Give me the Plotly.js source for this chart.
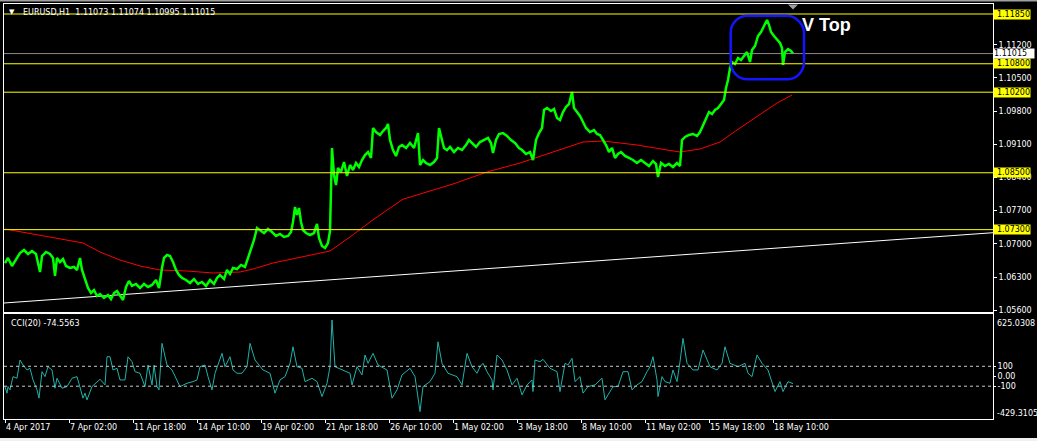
<!DOCTYPE html>
<html><head><meta charset="utf-8">
<script src="https://cdn.plot.ly/plotly-3.0.1.min.js"></script>
<style>html,body{margin:0;padding:0;background:#000;overflow:hidden}#chart{width:1037px;height:441px}</style>
</head><body><div id="chart"></div>
<script>
// ---- data (bar index = hourly bar counted from 4 Apr 2017 10:00) ----
const priceBar = [0,3,7,11,15,19,23,27,31,35,37,41,45,48,50,52,55,58,61,65,69,72,75,77,80,83,86,89,92,95,99,103,106,109,112,115,118,121,124,127,131,135,139,143,147,151,154,157,159,162,165,168,171,174,177,181,185,189,193,197,201,205,209,212,215,219,222,225,228,232,236,240,243,246,249,252,255,259,263,267,271,275,279,283,286,288,290,292,294,296,298,301,305,309,312,314,317,320,323,325,
327,329,331,333,336,339,342,345,348,351,354,357,360,363,366,368,371,375,378,381,383,385,388,391,394,397,401,405,409,413,415,418,421,425,429,432,434,436,439,442,445,449,453,457,461,464,467,471,475,479,483,486,488,491,494,498,502,506,510,514,517,521,525,528,531,534,537,539,542,546,549,552,555,558,561,564,567,569,572,575,578,581,585,589,592,595,598,601,604,607,610,613,616,620,624,628,632,636,640,644,648,651,653,656,660,664,668,672,675,677,680,684,688,692,695,
698,701,704,707,710,713,716,719,721,723,725,727,730,733,736,739,742,745,747,750,753,756,759,762,764,766,769,772,775,777,778,780,783,786,788];
const priceVal = [1.06596,1.06702,1.06533,1.06659,1.06807,1.06870,1.06786,1.06849,1.06786,1.06406,1.06744,1.06828,1.06786,1.06702,1.06322,1.06702,1.06617,1.06680,1.06533,1.06491,1.06512,1.06448,1.06702,1.06448,1.06280,1.06069,1.05963,1.06026,1.05900,1.05942,1.05858,1.05921,1.05836,1.05963,1.06005,1.05900,1.05815,1.06090,1.06216,1.06111,1.06153,1.06069,1.06153,1.06090,1.06132,1.06237,1.06069,1.06491,1.06702,1.06765,1.06744,1.06617,1.06448,1.06343,1.06280,1.06237,1.06174,1.06258,1.06153,1.06195,1.06111,1.06237,1.06153,1.06280,1.06343,1.06258,1.06448,1.06364,1.06491,1.06469,1.06554,1.06512,1.06702,1.06913,1.07081,1.07335,1.07292,1.07229,1.07313,1.07250,1.07166,1.07208,1.07145,1.07166,1.07250,1.07461,1.07778,1.07609,1.07757,1.07461,1.07292,1.07229,1.07187,1.07229,1.07419,1.07124,1.06955,1.06913,1.07018,1.07271,
1.09023,1.08453,1.08242,1.08601,1.08516,1.08727,1.08432,1.08664,1.08558,1.08706,1.08622,1.08769,1.08875,1.08938,1.08812,1.09445,1.09360,1.09297,1.09381,1.09445,1.09529,1.09191,1.08980,1.08854,1.09044,1.09086,1.09023,1.09128,1.09023,1.09339,1.08664,1.08769,1.08706,1.08664,1.08727,1.08812,1.09445,1.09255,1.09023,1.08980,1.09044,1.08938,1.09023,1.08980,1.09086,1.09191,1.09128,1.09044,1.09149,1.09191,1.09234,1.09128,1.08917,1.09191,1.09318,1.09339,1.09276,1.09191,1.09128,1.09023,1.08980,1.08896,1.08938,1.08769,1.09191,1.09339,1.09445,1.09824,1.09867,1.09803,1.09845,1.09656,1.09613,1.09782,1.09888,1.09951,1.10204,1.09867,1.09782,1.09698,1.09571,1.09445,1.09360,1.09402,1.09318,1.09297,1.09191,1.09086,1.08938,1.09023,1.08812,1.08896,1.08938,1.08854,1.08812,1.08769,1.08706,1.08769,1.08706,1.08643,1.08748,1.08685,1.08411,1.08706,1.08643,1.08685,1.08622,1.08706,1.08643,1.09191,1.09255,1.09297,1.09318,1.09276,1.09360,
1.09508,1.09656,1.09782,1.09740,1.09824,1.09867,1.09951,1.10035,1.10289,1.10457,1.10711,1.10837,1.10795,1.10922,1.10879,1.10964,1.11048,1.10837,1.11090,1.11175,1.11386,1.11470,1.11597,1.11723,1.11618,1.11470,1.11386,1.11301,1.11238,1.11133,1.10774,1.11048,1.11111,1.11069,1.11015];

const maBar = [0,45,78,95,115,135,155,182,208,235,248,268,295,325,345,365,385,398,448,482,515,548,578,598,632,662,675,695,715,735,755,772,787];
const maVal = [1.07313,1.07145,1.07018,1.06828,1.06659,1.06533,1.06448,1.06427,1.06385,1.06406,1.06469,1.06596,1.06723,1.06849,1.07145,1.07462,1.07757,1.07942,1.08263,1.08516,1.08706,1.08938,1.09149,1.09170,1.09086,1.08980,1.08938,1.09001,1.09149,1.09445,1.09720,1.09972,1.10141];

const trendBar = [-1, 988];
const trendVal = [1.05752, 1.07235];

const cciBar = [0,2,3,5,8,12,15,18,22,25,28,32,34,37,40,43,47,50,52,57,62,67,72,75,78,80,82,87,92,95,100,102,105,108,112,115,120,123,127,130,135,140,143,147,149,152,154,157,162,167,175,182,188,192,195,200,203,207,210,217,220,225,228,232,237,242,245,250,258,265,270,275,280,285,288,292,297,300,307,312,317,322,325,327,330,338,345,347,352,357,360,363,368,373,382,387,392,397,405,410,413,415,418,425,430,433,437,443,452,457,462,467,472,475,478,482,487,488,492,497,502,507,512,517,522,527,528,530,535,538,545,552,555,560,563,567,570,575,578,583,590,597,600,603,608,613,618,623,627,632,637,642,645,648,652,653,657,660,665,668,672,675,678,682,688,693,698,705,712,717,720,725,733,740,743,747,752,757,763,770,775,778,783,788];
const cciVal = [-104,-170,-104,-137,-4,-20,163,113,63,80,-37,-137,-220,46,-4,96,63,-120,-20,-120,-104,-20,-4,-104,-220,-170,-237,-104,-54,-30,-87,196,196,63,80,-37,-37,196,146,46,30,-104,113,-87,113,-104,-137,330,113,63,-104,-70,-54,-37,96,113,-4,-137,30,230,96,196,63,30,30,96,330,163,63,30,-170,-37,-4,130,296,96,80,-54,-20,-54,-204,-70,96,565,96,63,30,-87,96,13,213,130,230,113,63,-220,-137,13,80,-4,-237,-355,-104,-54,30,346,130,30,-4,-87,230,96,30,96,130,46,-37,-137,213,163,63,-87,-20,-187,-87,-37,-154,163,146,170,80,46,-154,130,113,180,-54,-4,-170,-104,-87,-20,-237,-187,-104,-104,46,46,-137,-87,-54,46,96,196,-37,-204,-4,-54,-70,63,-54,146,380,130,63,63,263,96,63,130,296,130,96,130,30,-4,213,130,63,-154,-54,-154,-54,-74.5563];

const levels = [1.1185, 1.1080, 1.1020, 1.0850, 1.0730];
const levelText = ['1.11850','1.10800','1.10200','1.08500','1.07300'];
const lastPrice = 1.11015;
const yTickVals = [1.112,1.105,1.098,1.091,1.084,1.077,1.070,1.063,1.056];
const yTickText = ['1.11200','1.10500','1.09800','1.09100','1.08400','1.07700','1.07000','1.06300','1.05600'];
const xTickBars = [0,64,128,192,256,320,384,448,512,576,640,704,768];
const xTickText = ['4 Apr 2017','7 Apr 02:00','11 Apr 18:00','14 Apr 10:00','19 Apr 02:00','21 Apr 18:00','26 Apr 10:00','1 May 02:00','3 May 18:00','8 May 10:00','11 May 02:00','15 May 18:00','18 May 10:00'];
const cciLevels = [100, -100];
const cciMax = 625.0308, cciMin = -429.3105;

// ---- helpers for pixel-placed decorations ----
const W = 1037, H = 441, ML = 4, MR = 44, MT = 4, MB = 22;
const PW = W - ML - MR, PH = H - MT - MB;
const px = v => (v - ML) / PW;
const py = v => (H - MB - v) / PH;
const FONT = 'DejaVu Sans, Verdana, sans-serif';

const traces = [
  {x: trendBar, y: trendVal, xaxis:'x2', yaxis:'y', mode:'lines', line:{color:'#ffffff', width:1}, hoverinfo:'skip'},
  {x: maBar, y: maVal, xaxis:'x2', yaxis:'y', mode:'lines', line:{color:'#ff0000', width:1}, hoverinfo:'skip'},
  {x: priceBar, y: priceVal, xaxis:'x2', yaxis:'y', mode:'lines', line:{color:'#00ff00', width:2.5}, hoverinfo:'skip'},
  {x: cciBar, y: cciVal, xaxis:'x', yaxis:'y2', mode:'lines', line:{color:'#20b2aa', width:1}, hoverinfo:'skip'}
];

const shapes = [];
levels.forEach(l => shapes.push({type:'line', xref:'x domain', yref:'y', x0:0, x1:1, y0:l, y1:l, line:{color:'#ffff00', width:1}}));
shapes.push({type:'line', xref:'x domain', yref:'y', x0:0, x1:1, y0:lastPrice, y1:lastPrice, line:{color:'#8a8a8a', width:1}, layer:'below'});
cciLevels.forEach(l => shapes.push({type:'line', xref:'x domain', yref:'y2', x0:0, x1:1, y0:l, y1:l, line:{color:'#c8c8c8', width:1, dash:'3px,3px'}}));

// rounded highlight box around the top (bar / price coordinates)
const bx0 = 725.7, bx1 = 799, by0 = 1.10472, by1 = 1.11814, rx = 17, ry = 0.0036, k = 0.45;
const boxPath = `M ${bx0+rx},${by1} L ${bx1-rx},${by1} C ${bx1-rx*k},${by1} ${bx1},${by1-ry*(1-k)} ${bx1},${by1-ry} ` +
  `L ${bx1},${by0+ry} C ${bx1},${by0+ry*k} ${bx1-rx*k},${by0} ${bx1-rx},${by0} ` +
  `L ${bx0+rx},${by0} C ${bx0+rx*k},${by0} ${bx0},${by0+ry*k} ${bx0},${by0+ry} ` +
  `L ${bx0},${by1-ry} C ${bx0},${by1-ry*k} ${bx0+rx*k},${by1} ${bx0+rx},${by1} Z`;
shapes.push({type:'path', xref:'x', yref:'y', path:boxPath, line:{color:'#1414ff', width:2.5}});

// chart-shift marker (grey triangle at the top)
shapes.push({type:'path', xref:'paper', yref:'paper', path:`M ${px(788)},${py(4.5)} L ${px(798)},${py(4.5)} L ${px(793)},${py(9.5)} Z`, fillcolor:'#a0a0a0', line:{width:0}});
// window edges
shapes.push({type:'rect', xref:'paper', yref:'paper', x0:px(0), x1:px(W), y0:py(438), y1:py(H), fillcolor:'#f0f0f0', line:{width:0}});
shapes.push({type:'rect', xref:'paper', yref:'paper', x0:px(0), x1:px(W), y0:py(0), y1:py(1.5), fillcolor:'#a0a0a0', line:{width:0}});

const annotations = [];
levels.forEach((l,i) => annotations.push({xref:'paper', yref:'y', x:1, y:l, xanchor:'left', yanchor:'middle', text:levelText[i], showarrow:false, bgcolor:'#ffff00', font:{family:FONT, size:8, color:'#000'}, width:36, align:'right', borderpad:0, height:9}));
annotations.push({xref:'paper', yref:'y', x:1, y:lastPrice, xanchor:'left', yanchor:'middle', text:'1.11015', showarrow:false, bgcolor:'#ffffff', font:{family:FONT, size:8, color:'#000'}, width:40, align:'left', xshift:0, borderpad:0, height:9});
annotations.push({xref:'paper', yref:'paper', x:px(20.5), y:py(12.3), xanchor:'left', yanchor:'middle', text:'EURUSD,H1  1.11073 1.11074 1.10995 1.11015', showarrow:false, font:{family:FONT, size:8, color:'#ffffff'}});
annotations.push({xref:'paper', yref:'paper', x:px(11.5), y:py(12.5), xanchor:'center', yanchor:'middle', text:'▼', showarrow:false, font:{family:FONT, size:7, color:'#ffffff'}});
annotations.push({xref:'paper', yref:'paper', x:px(9), y:py(323.5), xanchor:'left', yanchor:'middle', text:'CCI(20) -74.5563', showarrow:false, font:{family:FONT, size:8, color:'#ffffff'}});
annotations.push({xref:'paper', yref:'paper', x:px(800), y:py(25), xanchor:'left', yanchor:'middle', text:'<b>V Top</b>', showarrow:false, font:{family:'Liberation Sans, sans-serif', size:18, color:'#ffffff'}});
annotations.push({xref:'paper', yref:'paper', x:px(995.5), y:py(323), xanchor:'left', yanchor:'middle', text:cciMax.toFixed(4), showarrow:false, font:{family:FONT, size:8, color:'#ffffff'}});
annotations.push({xref:'paper', yref:'paper', x:px(995.5), y:py(413), xanchor:'left', yanchor:'middle', text:cciMin.toFixed(4), showarrow:false, font:{family:FONT, size:8, color:'#ffffff'}});

const axisCommon = {showgrid:false, zeroline:false, showline:true, mirror:true, linecolor:'#ffffff', linewidth:1, tickcolor:'#ffffff', tickfont:{family:FONT, size:8, color:'#ffffff'}};

const layout = {
  width: W, height: H,
  margin: {l:ML, r:MR, t:MT, b:MB, pad:0},
  paper_bgcolor:'#000000', plot_bgcolor:'#000000',
  showlegend:false,
  font:{family:FONT, size:8, color:'#ffffff'},
  xaxis: Object.assign({}, axisCommon, {range:[-1, 988], domain:[0,1], anchor:'y2', tickmode:'array', tickvals:xTickBars, ticktext:xTickText, ticks:'outside', ticklen:3, ticklabelposition:'outside right'}),
  xaxis2: Object.assign({}, axisCommon, {matches:'x', anchor:'y', showticklabels:false, ticks:''}),
  yaxis: Object.assign({}, axisCommon, {domain:[(H-MB-312)/PH, 1], anchor:'x2', side:'right', range:[1.05562, 1.12061], tickmode:'array', tickvals:yTickVals, ticktext:yTickText, ticks:'outside', ticklen:3}),
  yaxis2: Object.assign({}, axisCommon, {domain:[0, (H-MB-314)/PH], anchor:'x', side:'right', range:[cciMin, cciMax], tickmode:'array', tickvals:[100,0,-100], ticktext:['100','0.00','-100'], ticks:'outside', ticklen:2}),
  shapes: shapes,
  annotations: annotations
};

Plotly.newPlot('chart', traces, layout, {staticPlot:true, displayModeBar:false});
</script>
</body></html>
